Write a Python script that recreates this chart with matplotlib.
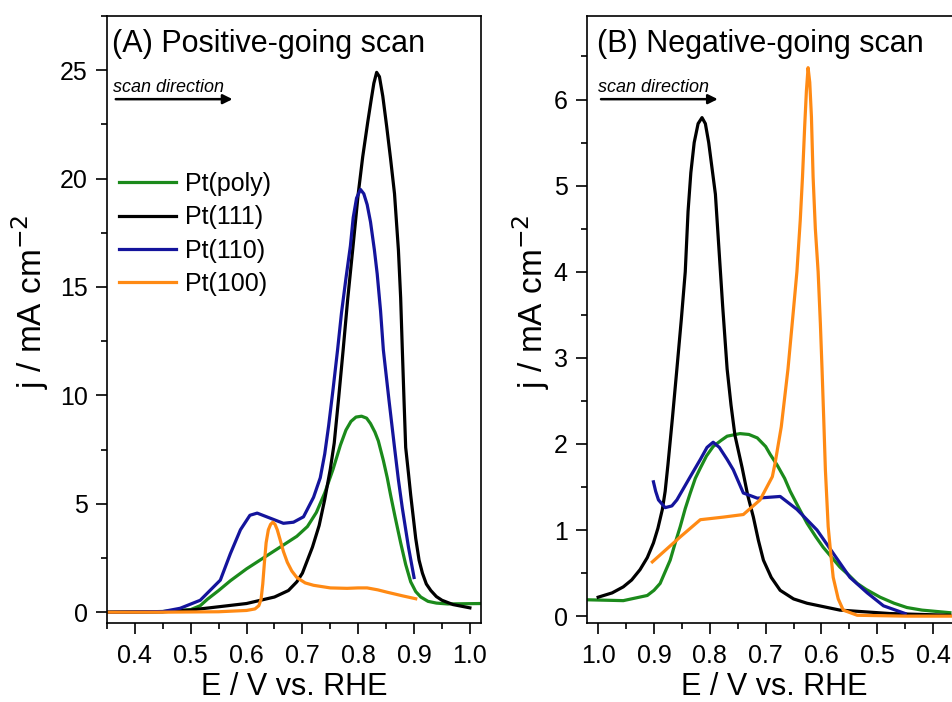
import matplotlib
matplotlib.use("Agg")
import matplotlib.pyplot as plt
from matplotlib.ticker import MultipleLocator, FormatStrFormatter

plt.rcParams['font.family'] = ['Liberation Sans', 'DejaVu Sans']

labels = ["Pt(poly)", "Pt(111)", "Pt(110)", "Pt(100)"]
colors = ["#1b8a1b", "#000000", "#14149c", "#ff8a14"]

# positive-going scan
pos_poly_E = [0.35, 0.45, 0.50, 0.517, 0.53, 0.55, 0.571, 0.60, 0.63, 0.66, 0.69, 0.709, 0.725, 0.740, 0.755,
              0.768, 0.778, 0.787, 0.796, 0.806, 0.815, 0.822, 0.830, 0.836, 0.845, 0.852, 0.858, 0.866,
              0.876, 0.885, 0.894, 0.903, 0.912, 0.925, 0.94, 0.96, 1.02]
pos_poly_j = [0.0, 0.03, 0.12, 0.3, 0.6, 1.0, 1.45, 2.0, 2.5, 3.0, 3.5, 3.95, 4.6, 5.5, 6.6,
              7.7, 8.4, 8.8, 9.0, 9.04, 8.95, 8.7, 8.3, 7.9, 7.0, 6.2, 5.4, 4.4,
              3.2, 2.2, 1.4, 0.95, 0.7, 0.5, 0.42, 0.38, 0.4]

pos_111_E = [0.35, 0.45, 0.50, 0.55, 0.60, 0.65, 0.675, 0.69, 0.70, 0.718, 0.73, 0.74, 0.75, 0.757, 0.765,
             0.773, 0.781, 0.79, 0.80, 0.808, 0.817, 0.823, 0.828, 0.833, 0.838, 0.844, 0.851, 0.858,
             0.865, 0.872, 0.876, 0.879, 0.882, 0.885, 0.890, 0.894, 0.903, 0.909, 0.915, 0.922, 0.93,
             0.94, 0.95, 0.97, 1.0]
pos_111_j = [0.0, 0.02, 0.1, 0.25, 0.4, 0.7, 1.0, 1.4, 1.8, 3.0, 4.0, 5.2, 6.6, 7.8, 9.9,
             12.1, 14.4, 16.7, 19.3, 21.0, 22.6, 23.6, 24.4, 24.9, 24.7, 23.8, 22.4, 20.9,
             19.3, 16.7, 14.5, 12.1, 9.8, 7.6, 6.4, 5.4, 3.4, 2.4, 1.8, 1.3, 1.0,
             0.72, 0.55, 0.35, 0.2]

pos_110_E = [0.35, 0.45, 0.481, 0.517, 0.553, 0.571, 0.589, 0.606, 0.619, 0.642, 0.666, 0.684, 0.702, 0.720,
             0.732, 0.740, 0.747, 0.755, 0.763, 0.770, 0.778, 0.786, 0.791, 0.797, 0.804, 0.810, 0.816,
             0.822, 0.829, 0.834, 0.840, 0.845, 0.855, 0.865, 0.872, 0.879, 0.890, 0.900]
pos_110_j = [0.0, 0.03, 0.18, 0.55, 1.48, 2.7, 3.8, 4.47, 4.57, 4.34, 4.1, 4.15, 4.4, 5.3,
             6.2, 7.3, 8.6, 10.3, 12.1, 13.8, 15.4, 16.9, 18.2, 19.1, 19.5, 19.3, 18.8,
             18.0, 16.7, 15.6, 13.9, 12.1, 9.8, 7.6, 6.1, 4.8, 3.0, 1.6]

pos_100_E = [0.35, 0.45, 0.55, 0.60, 0.615, 0.622, 0.626, 0.629, 0.632, 0.635, 0.639, 0.643, 0.647, 0.651,
             0.655, 0.660, 0.666, 0.673, 0.681, 0.690, 0.705, 0.720, 0.75, 0.78, 0.80, 0.816, 0.835,
             0.852, 0.880, 0.903]
pos_100_j = [0.0, 0.0, 0.02, 0.08, 0.15, 0.3, 0.6, 1.3, 2.3, 3.2, 3.8, 4.05, 4.15, 4.05,
             3.8, 3.35, 2.8, 2.3, 1.9, 1.6, 1.35, 1.24, 1.12, 1.1, 1.12, 1.12, 1.03,
             0.92, 0.75, 0.62]

# negative-going scan
neg_poly_E = [1.02, 0.955, 0.912, 0.90, 0.889, 0.871, 0.862, 0.853, 0.844, 0.835, 0.826, 0.817, 0.806, 0.794,
              0.78, 0.769, 0.746, 0.73, 0.715, 0.70, 0.692, 0.679, 0.666, 0.656, 0.64, 0.626, 0.61, 0.597,
              0.58, 0.567, 0.55, 0.536, 0.52, 0.495, 0.47, 0.447, 0.42, 0.37]
neg_poly_j = [0.19, 0.18, 0.24, 0.3, 0.38, 0.65, 0.85, 1.04, 1.25, 1.43, 1.6, 1.72, 1.86, 1.97,
              2.04, 2.09, 2.12, 2.11, 2.07, 1.97, 1.88, 1.75, 1.6, 1.45, 1.25, 1.08, 0.92, 0.8,
              0.67, 0.57, 0.47, 0.38, 0.31, 0.22, 0.15, 0.1, 0.07, 0.04]

neg_111_E = [1.0, 0.975, 0.955, 0.94, 0.925, 0.912, 0.901, 0.893, 0.885, 0.880, 0.875, 0.867, 0.859, 0.851,
             0.844, 0.839, 0.834, 0.828, 0.821, 0.814, 0.808, 0.802, 0.796, 0.790, 0.784, 0.777, 0.769,
             0.762, 0.755, 0.742, 0.732, 0.722, 0.713, 0.704, 0.69, 0.674, 0.65, 0.626, 0.567, 0.477, 0.37]
neg_111_j = [0.22, 0.27, 0.34, 0.42, 0.54, 0.68, 0.85, 1.02, 1.24, 1.45, 1.76, 2.3, 2.87, 3.45,
             4.0, 4.7, 5.15, 5.5, 5.72, 5.79, 5.72, 5.5, 5.2, 4.9, 4.3, 3.6, 2.87,
             2.45, 2.1, 1.72, 1.4, 1.15, 0.88, 0.65, 0.45, 0.30, 0.2, 0.15, 0.07, 0.03, 0.01]

neg_110_E = [0.901, 0.897, 0.892, 0.880, 0.868, 0.859, 0.835, 0.817, 0.805, 0.794, 0.783, 0.769, 0.758, 0.740,
             0.715, 0.695, 0.674, 0.644, 0.608, 0.579, 0.549, 0.518, 0.489, 0.45]
neg_110_j = [1.56, 1.45, 1.35, 1.26, 1.28, 1.35, 1.62, 1.82, 1.96, 2.02, 1.96, 1.82, 1.70, 1.43,
             1.37, 1.38, 1.39, 1.24, 1.0, 0.73, 0.45, 0.27, 0.12, 0.03]

neg_100_E = [0.903, 0.853, 0.817, 0.776, 0.740, 0.710, 0.688, 0.683, 0.672, 0.660, 0.651, 0.644, 0.638,
             0.634, 0.630, 0.627, 0.624, 0.621, 0.618, 0.615, 0.611, 0.606, 0.602, 0.599, 0.596, 0.593,
             0.588, 0.583, 0.579, 0.570, 0.561, 0.536, 0.45, 0.35]
neg_100_j = [0.63, 0.92, 1.12, 1.15, 1.18, 1.35, 1.62, 1.78, 2.2, 2.87, 3.5, 4.0, 4.6,
             5.1, 5.7, 6.1, 6.37, 6.2, 5.8, 5.1, 4.5, 4.0, 3.4, 2.87, 2.3, 1.70,
             1.04, 0.7, 0.45, 0.2, 0.07, 0.01, 0.0, 0.0]

pos_curves = [(pos_poly_E, pos_poly_j), (pos_111_E, pos_111_j), (pos_110_E, pos_110_j), (pos_100_E, pos_100_j)]
neg_curves = [(neg_poly_E, neg_poly_j), (neg_111_E, neg_111_j), (neg_110_E, neg_110_j), (neg_100_E, neg_100_j)]

fig = plt.figure(figsize=(9.52, 7.02), dpi=100)
ax1 = fig.add_axes([0.1124, 0.1125, 0.3929, 0.8647])
ax2 = fig.add_axes([0.6166, 0.1125, 0.3929, 0.8647])

for (E, j), c, lab in zip(pos_curves, colors, labels):
    ax1.plot(E, j, color=c, lw=2.3, label=lab, solid_joinstyle='round')
for (E, j), c in zip(neg_curves, colors):
    ax2.plot(E, j, color=c, lw=2.3, solid_joinstyle='round')

ax1.set_xlim(0.35, 1.02)
ax1.set_ylim(-0.5, 27.5)
ax1.yaxis.set_major_locator(MultipleLocator(5))
ax1.yaxis.set_minor_locator(MultipleLocator(2.5))

ax2.set_xlim(1.02, 0.35)
ax2.set_ylim(-0.08, 6.97)
ax2.yaxis.set_major_locator(MultipleLocator(1))
ax2.yaxis.set_minor_locator(MultipleLocator(0.5))

for ax, title in [(ax1, "(A) Positive-going scan"), (ax2, "(B) Negative-going scan")]:
    ax.xaxis.set_major_locator(MultipleLocator(0.1))
    ax.xaxis.set_minor_locator(MultipleLocator(0.05))
    ax.xaxis.set_major_formatter(FormatStrFormatter('%.1f'))
    ax.yaxis.set_major_formatter(FormatStrFormatter('%d'))
    for s in ax.spines.values():
        s.set_linewidth(1.2)
    ax.tick_params(which='major', direction='out', length=8, width=1.2, labelsize=18, pad=6)
    ax.tick_params(axis='x', which='major', pad=7)
    ax.tick_params(which='minor', direction='out', length=4.5, width=1.2)
    ax.set_xlabel("E / V vs. RHE", fontsize=22, labelpad=3)
    ax.set_ylabel(r"j / mA cm$^{-2}$", fontsize=24, labelpad=6 if ax is ax1 else 1)
    ax.yaxis.label.set_y(0.53)
    x0 = 0.013 if ax is ax1 else 0.027
    ax.text(x0, 0.941, title, transform=ax.transAxes, fontsize=22, va='baseline', ha='left')
    ax.text(x0 + 0.003, 0.875, "scan direction", transform=ax.transAxes, fontsize=13,
            style='italic', va='baseline', ha='left')
    ax.annotate("", xy=(x0 + 0.33, 0.863), xytext=(x0 + 0.003, 0.863), xycoords='axes fraction',
                arrowprops=dict(arrowstyle='-|>', color='black', lw=1.8, mutation_scale=14))

ax1.legend(loc='upper left', bbox_to_anchor=(0.033, 0.743), frameon=False, fontsize=18,
           handlelength=2.28, handletextpad=0.36, labelspacing=0.37, borderaxespad=0, borderpad=0)

fig.savefig("out.png", dpi=100)
